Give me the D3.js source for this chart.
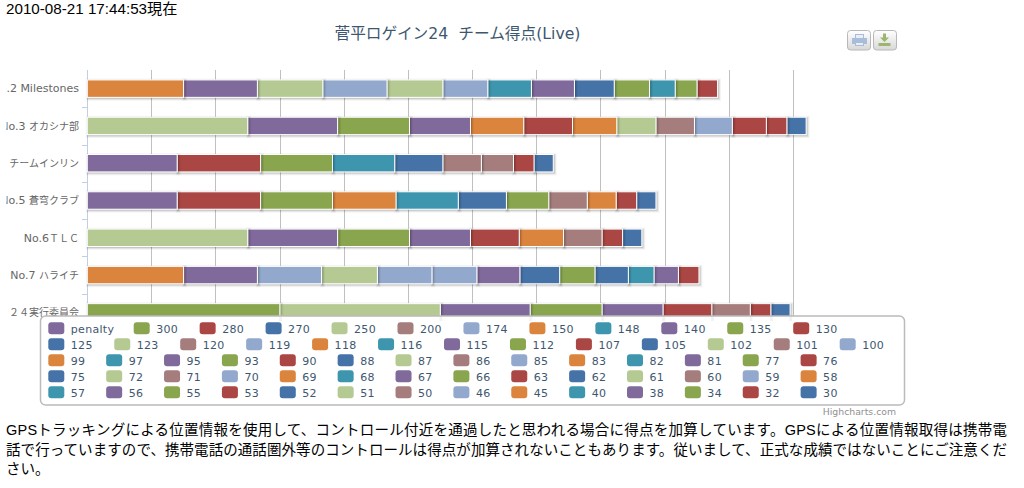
<!DOCTYPE html>
<html lang="ja">
<head>
<meta charset="utf-8">
<script src="https://cdn.jsdelivr.net/npm/d3@7/dist/d3.min.js"></script>
<style>
html,body{margin:0;padding:0;background:#fff;overflow:hidden}
svg{display:block}
text{font-family:"DejaVu Sans","Noto Sans CJK JP",sans-serif}
.plain{font-family:"Liberation Sans","Noto Sans CJK JP",sans-serif;font-size:14.5px;fill:#000}
</style>
</head>
<body>
<svg id="c" width="1024" height="488"></svg>
<script>
const stamp = "2010-08-21 17:44:53現在";
const chartTitle = "菅平ロゲイン24\u00a0\u00a0チーム得点(Live)";
const credit = "Highcharts.com";
const note = [
  "GPSトラッキングによる位置情報を使用して、コントロール付近を通過したと思われる場合に得点を加算しています。GPSによる位置情報取得は携帯電",
  "話で行っていますので、携帯電話の通話圏外等のコントロールは得点が加算されないこともあります。従いまして、正式な成績ではないことにご注意くだ",
  "さい。"
];
const categories = ["No.2 Milestones","No.3 オカシナ部","チームインリン","No.5 蒼穹クラブ","No.6ＴＬＣ","No.7 ハライチ","２４実行委員会"];
const team2 = [150,115,102,100,87,70,68,67,62,55,40,34,32];
const team3 = [250,140,112,95,83,76,69,61,60,59,53,32,30];
const teamInrin = [140,130,112,97,75,60,50,32,30];
const team5 = [140,130,112,99,97,75,66,60,45,32,30];
const team6 = [250,140,112,95,76,69,60,32,30];
const team7 = [150,115,100,87,85,70,67,62,55,52,40,38,32];
const team24 = [300,250,140,112,95,76,60,32,30];
const rowsData = [team2,team3,teamInrin,team5,team6,team7,team24];
const seriesNames = ["penalty",300,280,270,250,200,174,150,148,140,135,130,
  125,123,120,119,118,116,115,112,107,105,102,101,100,
  99,97,95,93,90,88,87,86,85,83,82,81,77,76,
  75,72,71,70,69,68,67,66,63,62,61,60,59,58,
  57,56,55,53,52,51,50,46,45,40,38,34,32,30].map(String);
const palette = ["#80699B","#89A54E","#AA4643","#4572A7","#B5CA92","#A47D7C","#92A8CD","#DB843D","#3D96AE"];
const xTicks = [0,100,200,300,400,500,600,700,800,900,1000,1100];

const svg = d3.select("#c");
const color = d3.scaleOrdinal(palette).domain(seriesNames);
const x = d3.scaleLinear().domain([0,1100]).range([87,793]);
const y = d3.scaleBand().domain(categories).range([70,331]).paddingInner(0.533).paddingOuter(0.2665);
const legendTop = 316;

// page texts
svg.append("text").attr("class","plain").style("font-size","15.2px").attr("x",6).attr("y",14).text(stamp);
svg.append("text").attr("x",457.5).attr("y",39).attr("text-anchor","middle")
  .attr("font-size",15.7).attr("fill","#3E576F").text(chartTitle);
svg.append("g").selectAll("text").data(note).join("text").attr("class","plain")
  .attr("x",6).attr("y",(d,i)=>435+i*19.6)
  .attr("textLength",(d,i)=>i<2?1001:null).attr("lengthAdjust","spacing").text(d=>d);

// clip for category labels
const defs = svg.append("defs");
defs.append("clipPath").attr("id","lab").append("rect").attr("x",6.5).attr("y",60).attr("width",80).attr("height",270);
const grad = defs.append("linearGradient").attr("id","btn").attr("x1",0).attr("x2",0).attr("y1",0).attr("y2",1);
grad.append("stop").attr("offset",0).attr("stop-color","#fff");
grad.append("stop").attr("offset",1).attr("stop-color","#d8d8d8");

// grid and axis
svg.append("g").selectAll("line").data(xTicks.slice(1)).join("line")
  .attr("x1",d=>Math.round(x(d))+.5).attr("x2",d=>Math.round(x(d))+.5)
  .attr("y1",70).attr("y2",legendTop).attr("stroke","#C0C0C0");
svg.append("line").attr("x1",87.5).attr("x2",87.5).attr("y1",70).attr("y2",legendTop).attr("stroke","#C0D0E0");
svg.append("g").selectAll("line").data(categories.slice(0,-1)).join("line")
  .attr("x1",82).attr("x2",87)
  .attr("y1",d=>Math.round(y(d)+y.bandwidth()/2+y.step()/2)+.5)
  .attr("y2",d=>Math.round(y(d)+y.bandwidth()/2+y.step()/2)+.5)
  .attr("stroke","#C0D0E0");
const labels = svg.append("g").attr("clip-path","url(#lab)").selectAll("text").data(categories).join("text")
  .attr("x",79).attr("y",d=>y(d)+y.bandwidth()/2).attr("dy",".35em").attr("text-anchor","end")
  .attr("font-size",11).attr("fill","#666");
labels.each(function(d){
  const t = d3.select(this);
  (d.match(/[\x00-\x7f]+|[^\x00-\x7f]+/g)||[]).forEach(part=>{
    t.append("tspan").attr("font-size",/[\x00-\x7f]/.test(part)?11:10).text(part);
  });
});

// stacked bars
const segs = rowsData.map((vals,r)=>{
  let acc=0;
  return vals.map(v=>{const s={cat:categories[r],v,x0:acc,x1:acc+v};acc+=v;return s;});
});
const barsG = svg.append("g");
segs.forEach(row=>{
  const g = barsG.append("g");
  [...row].reverse().forEach(s=>{
    const rx=x(s.x0)+.3, w=x(s.x1)-x(s.x0), ry=y(s.cat), h=y.bandwidth();
    [[5,.04],[3,.08],[1,.12]].forEach(([sw,op])=>{
      g.append("rect").attr("x",rx+1).attr("y",ry+1).attr("width",w).attr("height",h)
        .attr("fill","none").attr("stroke","#000").attr("stroke-width",sw).attr("stroke-opacity",op);
    });
    g.append("rect").attr("x",rx).attr("y",ry).attr("width",w).attr("height",h)
      .attr("fill",color(String(s.v))).attr("stroke","#fff").attr("stroke-width",1);
  });
});

// legend
svg.append("rect").attr("x",40.5).attr("y",legendTop).attr("width",864).attr("height",89)
  .attr("rx",5).attr("fill","#fff").attr("stroke","#BBBBBB").attr("stroke-width",1.5);
// bar shadows showing through the legend
svg.append("g").selectAll("line").data(segs[segs.length-1]).join("line")
  .attr("x1",d=>x(d.x1)+1).attr("x2",d=>x(d.x1)+1).attr("y1",legendTop+1).attr("y2",321)
  .attr("stroke","#000").attr("stroke-width",3).attr("stroke-opacity",.05);

const rowCounts = [12,13,14,14,14];
const rowSteps = [65.95,65.95,57.87,57.87,57.87];
let idx = 0;
const lg = svg.append("g");
rowCounts.forEach((n,r)=>{
  seriesNames.slice(idx,idx+n).forEach((name,i)=>{
    const sx = r===0 ? (i===0?48.3:133.7+(i-1)*rowSteps[0]) : 48.3+i*rowSteps[r];
    const sy = 322.3+r*16;
    lg.append("rect").attr("x",sx).attr("y",sy).attr("width",16).attr("height",12).attr("rx",3)
      .attr("fill",color(name));
    lg.append("text").attr("x",sx+22.5).attr("y",sy+10.2).attr("font-size",11).attr("letter-spacing",.3)
      .attr("fill","#3E576F").text(name);
  });
  idx+=n;
});

svg.append("text").attr("x",896).attr("y",415).attr("text-anchor","end")
  .attr("font-size",9.3).attr("fill","#909090").text(credit);

// export buttons
[847.5,873.5].forEach(bx=>{
  svg.append("rect").attr("x",bx).attr("y",30.5).attr("width",23).attr("height",19.5).attr("rx",3)
    .attr("fill","url(#btn)").attr("stroke","#B8B8B8");
});
const icon = svg.append("g");
icon.append("path").attr("fill","#A9BDD8")
  .attr("d","M855 34h9v4h3v6h-3v2h-9v-2h-3v-6h3z");
icon.append("path").attr("fill","#E8EEF4").attr("d","M856 35h7v3h-7z M856 43h7v2h-7z");
icon.append("path").attr("fill","#9DB56E")
  .attr("d","M883 33.5h3v4h3l-4.5 4.5l-4.5-4.5h3z M878.5 43h12v3h-12z");
</script>
</body>
</html>
